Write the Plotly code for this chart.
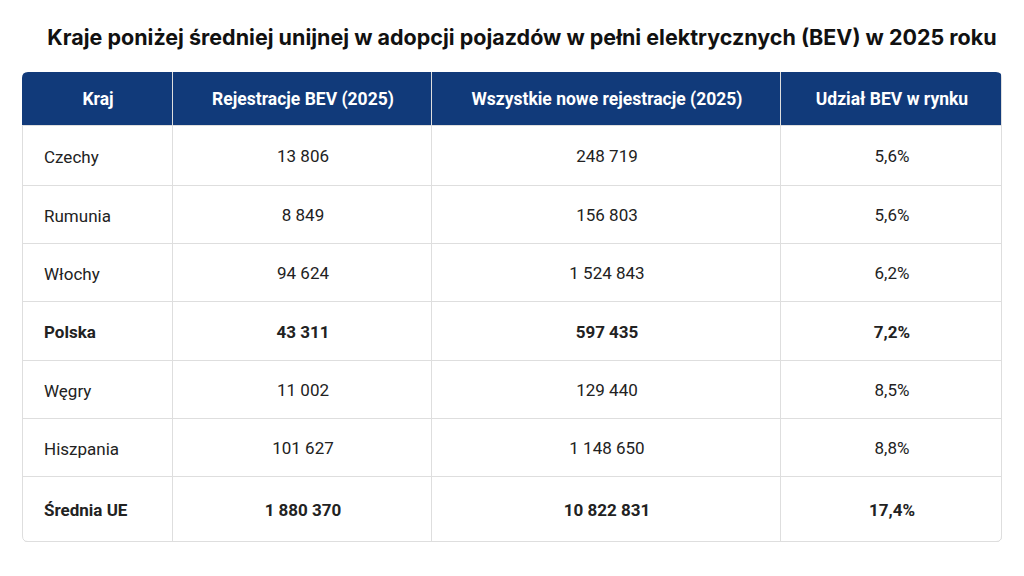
import plotly.graph_objects as go

countries = ["Czechy", "Rumunia", "Włochy", "Polska", "Węgry", "Hiszpania", "Średnia UE"]
bev = ["13 806", "8 849", "94 624", "43 311", "11 002", "101 627", "1 880 370"]
all_reg = ["248 719", "156 803", "1 524 843", "597 435", "129 440", "1 148 650", "10 822 831"]
share = ["5,6%", "5,6%", "6,2%", "7,2%", "8,5%", "8,8%", "17,4%"]
headers = ["Kraj", "Rejestracje BEV (2025)", "Wszystkie nowe rejestracje (2025)", "Udział BEV w rynku"]
bold_rows = ["Polska", "Średnia UE"]

# layout of the grid in pixels (the page adds an 8px body margin)
col_edges = [0, 151, 410, 759, 980]
row_edges = [0, 54, 114, 172, 230, 289, 347, 405, 470]
OFF = 8
NAVY = "#113a7a"
GRID = "#dedede"


def b(v, c):
    v = "<b>" + v + "</b>" if c in bold_rows else v
    return '<span style="color:#222222">' + v + "</span>"


text = [['<span style="color:white;font-size:17.5px"><b>' + h + "</b></span>" for h in headers]]
z = [[0, 0, 0, 0]]
for i, c in enumerate(countries):
    text.append(["", b(bev[i], c), b(all_reg[i], c), b(share[i], c)])
    z.append([1, 1, 1, 1])

fig = go.Figure()
fig.add_trace(go.Heatmap(
    x=col_edges, y=row_edges, z=z, text=text, texttemplate="%{text}",
    textfont=dict(family="Roboto", size=17),
    colorscale=[[0, NAVY], [1, "white"]], zmin=0, zmax=1, showscale=False,
    xgap=1, ygap=1, hoverinfo="skip",
))

# first column is left aligned, so it goes in its own text trace
row_mid = [(row_edges[i + 1] + row_edges[i + 2]) / 2 + 2.5 for i in range(len(countries))]
fig.add_trace(go.Scatter(
    x=[22] * len(countries), y=row_mid,
    text=[b(c, c) for c in countries], mode="text", textposition="middle right",
    textfont=dict(family="Roboto", size=17, color="#222222"),
    hoverinfo="skip", showlegend=False,
))

W, H = col_edges[-1], row_edges[-1]
r = 6
shapes = [
    dict(type="path", path=f"M -2,-2 L {r},-2 L {r},0 Q 0,0 0,{r} L -2,{r} Z",
         fillcolor="white", line_width=0, layer="above"),
    dict(type="path", path=f"M {W+2},-2 L {W-r},-2 L {W-r},0 Q {W},0 {W},{r} L {W+2},{r} Z",
         fillcolor="white", line_width=0, layer="above"),
    dict(type="path", path=f"M -2,{H+2} L {r},{H+2} L {r},{H} Q 0,{H} 0,{H-r} L -2,{H-r} Z",
         fillcolor="white", line_width=0, layer="above"),
    dict(type="path", path=f"M {W+2},{H+2} L {W-r},{H+2} L {W-r},{H} Q {W},{H} {W},{H-r} L {W+2},{H-r} Z",
         fillcolor="white", line_width=0, layer="above"),
    dict(type="path",
         path=f"M 0.5,{row_edges[1]} L 0.5,{H-r} Q 0.5,{H-0.5} {r},{H-0.5} L {W-r},{H-0.5} "
              f"Q {W-0.5},{H-0.5} {W-0.5},{H-r} L {W-0.5},{row_edges[1]}",
         line=dict(color=GRID, width=1), layer="above"),
]

fig.update_layout(
    width=1024, height=576,
    margin=dict(l=0, r=0, t=0, b=0),
    paper_bgcolor="white", plot_bgcolor=GRID,
    shapes=shapes,
    xaxis=dict(range=[0, W], domain=[(22 - OFF) / 1024, (22 - OFF + W) / 1024],
               visible=False, fixedrange=True),
    yaxis=dict(range=[H, 0], domain=[1 - (72 - OFF + H) / 576, 1 - (72 - OFF) / 576],
               visible=False, fixedrange=True),
    title=dict(
        text="<b>Kraje poniżej średniej unijnej w adopcji pojazdów w pełni elektrycznych (BEV) w 2025 roku</b>",
        x=(522 - OFF) / 1024, xanchor="center", y=1 - (37 - OFF) / 576, yanchor="middle",
        font=dict(family="Inter", size=21.5, color="#111111"),
    ),
)

fig.write_html("out.html")
